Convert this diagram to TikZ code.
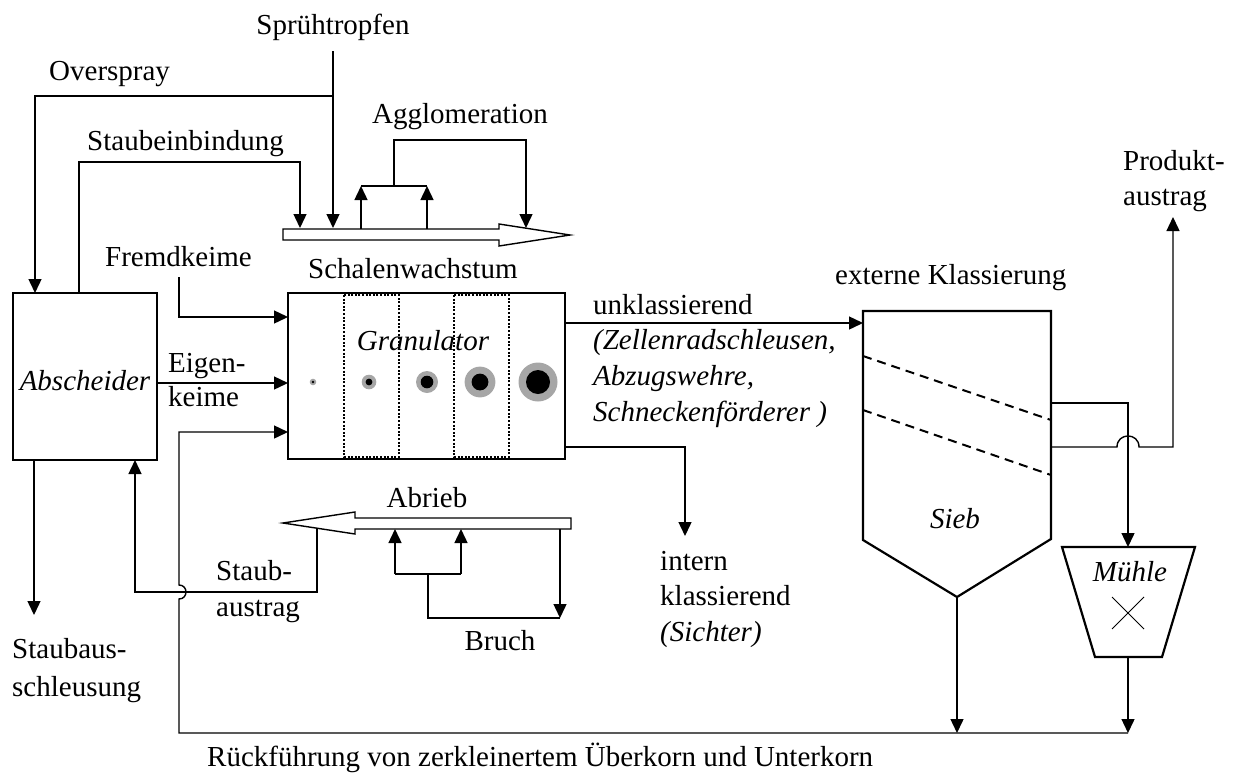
\documentclass[tikz,border=0pt]{standalone}
\usepackage{fontspec}
\setmainfont{Liberation Serif}
\usetikzlibrary{arrows.meta}
\begin{document}
\begin{tikzpicture}[x=1pt,y=-1pt,
  conn/.style={line width=1.4pt},
  arr/.style={conn,-{Triangle[length=14pt,width=13pt]}},
  box/.style={draw,line width=2.2pt,inner sep=0pt},
  lbl/.style={font=\fontsize{29}{34}\selectfont,inner sep=0pt,anchor=base west},
  ilbl/.style={font=\fontsize{29}{34}\selectfont\itshape,inner sep=0pt,anchor=base west},
  clbl/.style={font=\fontsize{29}{34}\selectfont,inner sep=0pt,anchor=base},
  cilbl/.style={font=\fontsize{29}{34}\selectfont\itshape,inner sep=0pt,anchor=base},
  dotbox/.style={line width=2.2pt,dash pattern=on 2pt off 1.6pt},
  sieve/.style={line width=2pt,dash pattern=on 9pt off 6pt},
  hollow/.style={conn,fill=white},
  grain/.style={fill=black!35}
]
\useasboundingbox (0,0) rectangle (1233,774);

% ---------- boxes ----------
\node[box,minimum width=144pt,minimum height=167pt] (A) at (85,376.5) {};
\draw[dotbox] (344,295) rectangle (399,457);
\draw[dotbox] (454,295) rectangle (509,457);
\node[box,minimum width=277pt,minimum height=166pt] (G) at (426.5,376) {};
\draw[line width=2.2pt,line join=miter] (863,311) -- (1051,311) -- (1051,539) -- (957,597) -- (863,540) -- cycle;
\draw[line width=2.2pt,line join=miter] (1062,547) -- (1195,547) -- (1162,657) -- (1095,657) -- cycle;
\draw[sieve] (863,356) -- (1051,420);
\draw[sieve] (863,410) -- (1051,475);
\draw[line width=1pt] (1112,597) -- (1144,629) (1112,629) -- (1144,597);

% particles
\fill[grain] (313,382) circle[radius=3.3];  \fill (313,382) circle[radius=1.4];
\fill[grain] (369,382) circle[radius=7.3];  \fill (369,382) circle[radius=3.4];
\fill[grain] (427,382) circle[radius=11];   \fill (427,382) circle[radius=6.3];
\fill[grain] (480,382) circle[radius=15.4]; \fill (480,382) circle[radius=8.4];
\fill[grain] (538,382) circle[radius=19.5]; \fill (538,382) circle[radius=12];

% ---------- hollow arrows ----------
\draw[hollow] (283,229) -- (499,229) -- (499,224) -- (570,235) -- (499,246) -- (499,240) -- (283,240) -- cycle;
\draw[hollow] (571,518) -- (355,518) -- (355,512) -- (283,523) -- (355,534) -- (355,529) -- (571,529) -- cycle;

% ---------- coordinates ----------
\coordinate (spT) at (333,51);
\coordinate (spB) at (333,228);
\coordinate (ovJ) at (333,96);
\coordinate (ovC) at (35,96);
\coordinate (ovE) at (35,293);
\coordinate (sbS) at (79,293);
\coordinate (sbC1) at (79,162);
\coordinate (sbC2) at (300,162);
\coordinate (sbE) at (300,228);
\coordinate (agL0) at (361,229);
\coordinate (agL1) at (361,186);
\coordinate (agR0) at (427,229);
\coordinate (agR1) at (427,186);
\coordinate (agM) at (394,186);
\coordinate (agC1) at (394,140);
\coordinate (agC2) at (526,140);
\coordinate (agE) at (526,228);
\coordinate (frS) at (179,277);
\coordinate (frC) at (179,317);
\coordinate (frE) at (288,317);
\coordinate (eiS) at (157,383);
\coordinate (eiE) at (288,383);
\coordinate (rfE) at (288,432);
\coordinate (rfC) at (179,432);
\coordinate (rfB) at (179,733);
\coordinate (hopA) at (179,599);
\coordinate (hopB) at (179,585);
\coordinate (ukS) at (565,323);
\coordinate (ukE) at (863,323);
\coordinate (inS) at (565,447);
\coordinate (inC) at (685,447);
\coordinate (inE) at (685,536);
\coordinate (ov1S) at (1051,403);
\coordinate (ov1C) at (1128,403);
\coordinate (mTop) at (1128,547);
\coordinate (ov2S) at (1051,447);
\coordinate (hop2A) at (1117,447);
\coordinate (hop2B) at (1139,447);
\coordinate (prC) at (1173,447);
\coordinate (prE) at (1173,217);
\coordinate (sTip) at (957,597);
\coordinate (sBot) at (957,733);
\coordinate (mBot) at (1128,657);
\coordinate (mEnd) at (1128,733);
\coordinate (aBot) at (34,460);
\coordinate (aOut) at (34,615);
\coordinate (saS) at (317,528);
\coordinate (saC1) at (317,592);
\coordinate (saC2) at (135,592);
\coordinate (saE) at (135,460);
\coordinate (brS) at (560,529);
\coordinate (brE) at (560,618);
\coordinate (brC) at (428,618);
\coordinate (brM) at (428,574);
\coordinate (brL0) at (395,574);
\coordinate (brL1) at (395,529);
\coordinate (brR0) at (461,574);
\coordinate (brR1) at (461,529);

% ---------- connectors ----------
\draw[arr] (spT) -- (spB);
\draw[arr] (ovJ) -- (ovC) -- (ovE);
\draw[arr] (sbS) -- (sbC1) -- (sbC2) -- (sbE);
\draw[arr] (agL0) -- (agL1);
\draw[arr] (agR0) -- (agR1);
\draw[conn] (agL1) -- (agR1);
\draw[arr] (agM) -- (agC1) -- (agC2) -- (agE);
\draw[arr] (frS) -- (frC) -- (frE);
\draw[arr] (eiS) -- (eiE);
\draw[arr,line join=miter] (mEnd) -- (rfB) -- (hopA) .. controls (188.3,599) and (188.3,585) .. (hopB) -- (rfC) -- (rfE);
\draw[arr] (ukS) -- (ukE);
\draw[arr] (inS) -- (inC) -- (inE);
\draw[arr] (ov1S) -- (ov1C) -- (mTop);
\draw[arr] (ov2S) -- (hop2A) .. controls (1117,432.3) and (1139,432.3) .. (hop2B) -- (prC) -- (prE);
\draw[arr] (sTip) -- (sBot);
\draw[arr] (mBot) -- (mEnd);
\draw[arr] (aBot) -- (aOut);
\draw[arr] (saS) -- (saC1) -- (saC2) -- (saE);
\draw[arr] (brS) -- (brE);
\draw[conn] (brE) -- (brC) -- (brM);
\draw[conn] (brL0) -- (brR0);
\draw[arr] (brL0) -- (brL1);
\draw[arr] (brR0) -- (brR1);

% ---------- labels ----------
\node[clbl] (tSpr) at (333,34) {Sprühtropfen};
\node[lbl] (tOv) at (49,80) {Overspray};
\node[clbl] (tAg) at (460,123) {Agglomeration};
\node[lbl] (tSb) at (87,150) {Staubeinbindung};
\node[lbl] (tFr) at (105,266) {Fremdkeime};
\node[lbl] (tSw) at (308,278) {Schalenwachstum};
\node[cilbl] (tGr) at (423,350) {Granulator};
\node[cilbl] (tAb) at (85,390) {Abscheider};
\node[lbl] (tEi1) at (168,372) {Eigen-};
\node[lbl] (tEi2) at (168,406) {keime};
\node[lbl] (tUk) at (593,314) {unklassierend};
\node[ilbl] (tUk1) at (593,349) {(Zellenradschleusen,};
\node[ilbl] (tUk2) at (593,385) {Abzugswehre,};
\node[ilbl] (tUk3) at (593,421) {Schneckenförderer )};
\node[lbl] (tEx) at (835,284) {externe Klassierung};
\node[lbl] (tPr1) at (1123,170) {Produkt-};
\node[lbl] (tPr2) at (1123,205) {austrag};
\node[cilbl] (tSi) at (955,528) {Sieb};
\node[cilbl] (tMu) at (1130,581) {Mühle};
\node[lbl] (tIn1) at (660,570) {intern};
\node[lbl] (tIn2) at (660,605) {klassierend};
\node[ilbl] (tIn3) at (660,641) {(Sichter)};
\node[clbl] (tAr) at (427,507) {Abrieb};
\node[clbl] (tBr) at (500,650) {Bruch};
\node[lbl] (tSa1) at (216,580) {Staub-};
\node[lbl] (tSa2) at (216,616) {austrag};
\node[lbl] (tSs1) at (12,658) {Staubaus-};
\node[lbl] (tSs2) at (12,696) {schleusung};
\node[lbl] (tRf) at (207,766) {Rückführung von zerkleinertem Überkorn und Unterkorn};
\end{tikzpicture}
\end{document}
